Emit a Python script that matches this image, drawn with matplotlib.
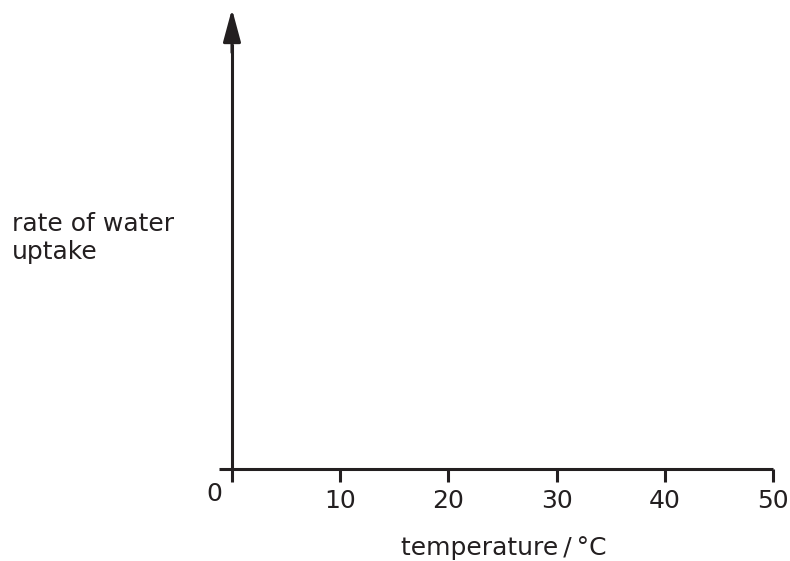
import matplotlib.pyplot as plt
from matplotlib.transforms import ScaledTranslation

plt.rcParams['font.family'] = ['DejaVu Sans']

# Datos del eje
x_ticks = [0, 10, 20, 30, 40, 50]
x_tick_labels = ['0', '10', '20', '30', '40', '50']
y_label = 'rate of water\nuptake'
x_label = 'temperature\u2009/\u2009°C'
ink = '#231f20'

fig = plt.figure(figsize=(7.9, 5.61), dpi=100)
W, H = 790, 561
# ejes: 0 en x=232px, 50 en x=773px, eje x en y=469px
left_px, right_px, bottom_px, top_px = 219, 773, 469, 44
ax = fig.add_axes([left_px / W, 1 - bottom_px / H,
                   (right_px - left_px) / W, (bottom_px - top_px) / H])
ax.set_xlim(-1.2, 50)
ax.set_ylim(0, 1)

for s in ['top', 'right']:
    ax.spines[s].set_visible(False)
ax.spines['left'].set_position(('data', 0))
ax.spines['left'].set_bounds(0, 1)
for s in ['left', 'bottom']:
    ax.spines[s].set_linewidth(2.2)
    ax.spines[s].set_color(ink)
    ax.spines[s].set_capstyle('butt')

ax.set_yticks([])
ax.set_xticks(x_ticks)
ax.set_xticklabels(x_tick_labels)
ax.tick_params(axis='x', direction='out', length=9.5, width=2.2, color=ink,
               labelsize=18, labelcolor=ink, pad=5)

# etiqueta 0 desplazada a la izquierda y arriba
lab0 = ax.get_xticklabels()[0]
lab0.set_horizontalalignment('right')
lab0.set_transform(lab0.get_transform() + ScaledTranslation(-7 / 72, 5 / 72, fig.dpi_scale_trans))

# flecha del eje y
ax.annotate('', xy=(0, 1 + 35 / (bottom_px - top_px)), xycoords=('data', 'axes fraction'),
            xytext=(0, 0.98), textcoords=('data', 'axes fraction'),
            arrowprops=dict(arrowstyle='-|>,head_length=1.0,head_width=0.27',
                            mutation_scale=20, color=ink, lw=2.2, shrinkA=0, shrinkB=0),
            annotation_clip=False)

fig.text(12 / W, 1 - 238 / H, y_label, ha='left', va='center', fontsize=18, color=ink)
fig.text(504 / W, 1 - 548 / H, x_label, ha='center', va='center', fontsize=18, color=ink)

plt.savefig('out.png', dpi=100)
